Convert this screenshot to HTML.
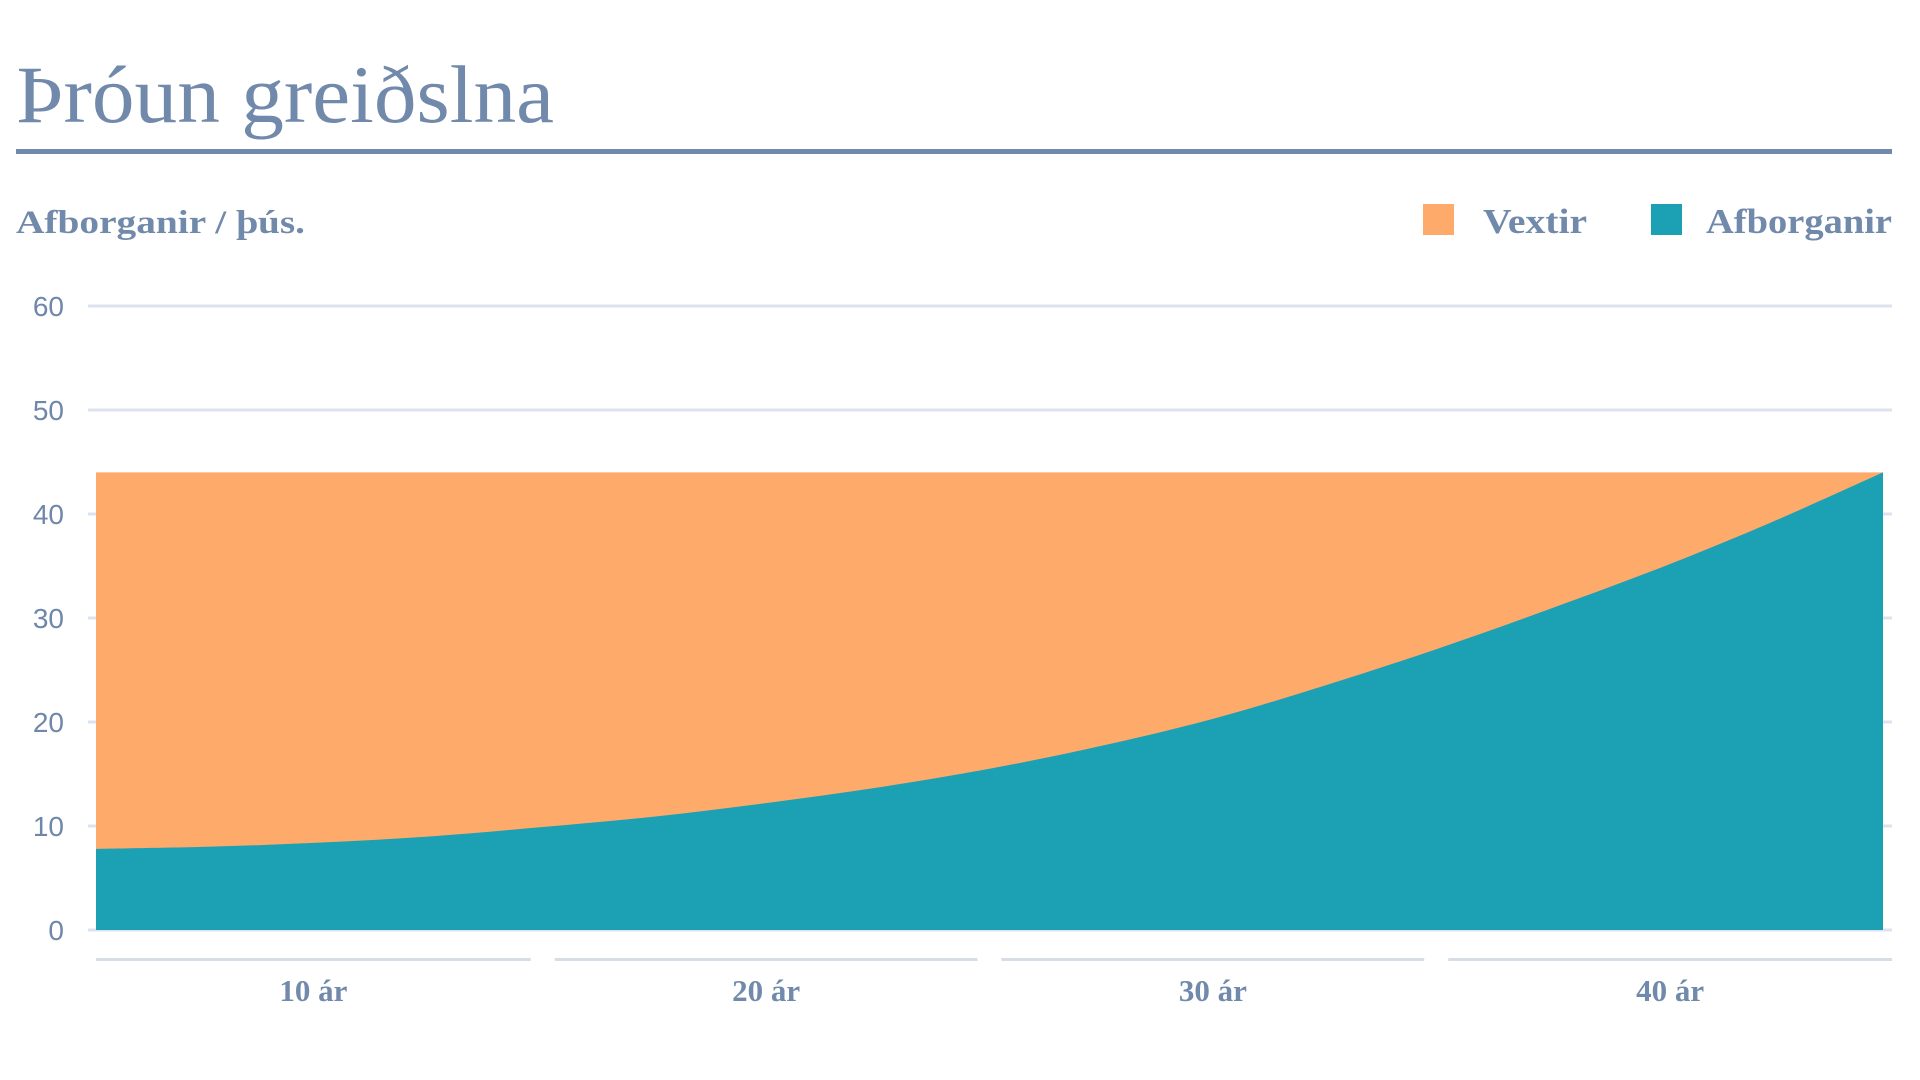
<!DOCTYPE html>
<html><head><meta charset="utf-8"><style>
html,body{margin:0;padding:0;background:#fff;}
svg{display:block;}
</style></head><body>
<svg id="chart" width="1920" height="1080" viewBox="0 0 1920 1080" xmlns="http://www.w3.org/2000/svg">
<text x="16" y="122" font-family="'Liberation Serif',serif" font-size="82" fill="#7189ab" textLength="538" lengthAdjust="spacingAndGlyphs">Þróun greiðslna</text>
<rect x="16" y="149" width="1876" height="5" fill="#7189ab"/>
<text x="16" y="233" font-family="'Liberation Serif',serif" font-weight="bold" font-size="33" fill="#7189ab" textLength="289" lengthAdjust="spacingAndGlyphs">Afborganir / þús.</text>
<g>
<g>
<rect x="1423" y="204" width="31" height="31" fill="#fdaa6b"/>
<text x="1483" y="233" font-family="'Liberation Serif',serif" font-weight="bold" font-size="35" fill="#7189ab" textLength="104" lengthAdjust="spacingAndGlyphs">Vextir</text>
</g>
<g>
<rect x="1651" y="204" width="31" height="31" fill="#1ca0b3"/>
<text x="1706" y="233" font-family="'Liberation Serif',serif" font-weight="bold" font-size="35" fill="#7189ab" textLength="186" lengthAdjust="spacingAndGlyphs">Afborganir</text>
</g>
</g>
<g id="grid"></g>
<g id="areas"></g>
<g id="xaxis"></g>
</svg>
<script>
const yTicks = [0, 10, 20, 30, 40, 50, 60];
const years = [0, 2.5, 5, 7.5, 10, 12.5, 15, 17.5, 20, 22.5, 25, 27.5, 30, 32.5, 35, 37.5, 40];
const principal = [7.8, 8.0, 8.4, 9.0, 9.9, 10.9, 12.2, 13.7, 15.5, 17.7, 20.3, 23.5, 27.0, 30.8, 34.8, 39.2, 44];
const totalPayment = [44, 44, 44, 44, 44, 44, 44, 44, 44, 44, 44, 44, 44, 44, 44, 44, 44];
const xLabels = ["10 ár", "20 ár", "30 ár", "40 ár"];
const xLabelYears = [[0, 10], [10, 20], [20, 30], [30, 40]];

const NS = "http://www.w3.org/2000/svg";
const X0 = 96, X1 = 1883, Y0 = 930, Y60 = 306;
function xs(t){ return X0 + (t - 0) / 40 * (X1 - X0); }
function ys(v){ return Y0 - v / 60 * (Y0 - Y60); }
function mk(tag, attrs, parent){ const e = document.createElementNS(NS, tag); for (const k in attrs) e.setAttribute(k, attrs[k]); parent.appendChild(e); return e; }

const grid = document.getElementById('grid');
yTicks.forEach(v => {
  const l = mk('rect', {x: 88, y: ys(v) - 1.5, width: 1804, height: 3, fill: '#dde3ee'}, grid);
  
  
  const t = mk('text', {x: 64, y: ys(v) + 10, 'text-anchor': 'end', 'font-family': "'Liberation Sans',sans-serif", 'font-size': 28, fill: '#6f87a8'}, grid);
  t.textContent = v;
  
  
});

function smoothPath(vals){
  const pts = years.map((t, i) => [xs(t), ys(vals[i])]);
  let d = 'M' + pts[0][0] + ',' + pts[0][1];
  for (let i = 0; i < pts.length - 1; i++) {
    const p0 = pts[Math.max(0, i - 1)], p1 = pts[i], p2 = pts[i + 1], p3 = pts[Math.min(pts.length - 1, i + 2)];
    const c1 = [p1[0] + (p2[0] - p0[0]) / 6, p1[1] + (p2[1] - p0[1]) / 6];
    const c2 = [p2[0] - (p3[0] - p1[0]) / 6, p2[1] - (p3[1] - p1[1]) / 6];
    d += ' C' + c1 + ' ' + c2 + ' ' + p2;
  }
  return d;
}
const areas = document.getElementById('areas');
const totalD = smoothPath(totalPayment) + ' L' + xs(40) + ',' + Y0 + ' L' + xs(0) + ',' + Y0 + ' Z';
const va = mk('path', {d: totalD, fill: '#fdaa6b'}, areas);


const prD = smoothPath(principal) + ' L' + xs(40) + ',' + Y0 + ' L' + xs(0) + ',' + Y0 + ' Z';
const pa = mk('path', {d: prD, fill: '#1ca0b3'}, areas);



const xa = document.getElementById('xaxis');
xLabels.forEach((lab, i) => {
  const a = xs(xLabelYears[i][0]) + (i === 0 ? 0 : 12);
  const b = xs(xLabelYears[i][1]) - (i === 3 ? -9 : 12);
  const s = mk('rect', {x: a, y: 958, width: b - a, height: 3, fill: '#d5dde9'}, xa);
  
  
  const t = mk('text', {x: (a + b) / 2, y: 1001, 'text-anchor': 'middle', 'font-family': "'Liberation Serif',serif", 'font-weight': 'bold', 'font-size': 31, fill: '#7189ab'}, xa);
  t.textContent = lab;
  
  
});
</script>
</body></html>
